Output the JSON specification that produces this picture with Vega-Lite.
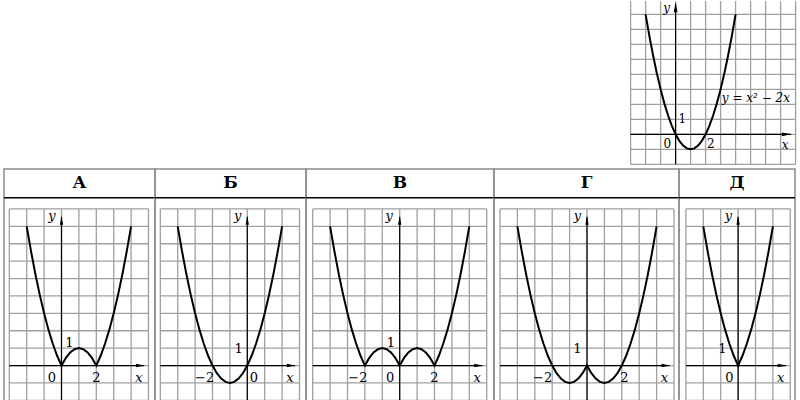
{
"$schema": "https://vega.github.io/schema/vega-lite/v6.json",
"background": "white",
"padding": {"left": 2, "top": 0, "right": 0, "bottom": 0},
"spacing": 0,
"config": {"view": {"stroke": null}, "axis": {"disable": true}, "concat": {"spacing": 0}},
"vconcat": [
{"hconcat": [
  {"width": 626, "height": 167, "data": {"values": []}, "mark": "point"},
  {"width": 166, "height": 167,
   "data": {"values": [
    {"k":"g","x":-3,"x2":-3,"y":-2,"y2":8.887},{"k":"g","x":-2,"x2":-2,"y":-2,"y2":8.887},{"k":"g","x":-1,"x2":-1,"y":-2,"y2":8.887},{"k":"g","x":0,"x2":0,"y":-2,"y2":8.887},{"k":"g","x":1,"x2":1,"y":-2,"y2":8.887},{"k":"g","x":2,"x2":2,"y":-2,"y2":8.887},{"k":"g","x":3,"x2":3,"y":-2,"y2":8.887},{"k":"g","x":4,"x2":4,"y":-2,"y2":8.887},{"k":"g","x":5,"x2":5,"y":-2,"y2":8.887},{"k":"g","x":6,"x2":6,"y":-2,"y2":8.887},{"k":"g","x":7,"x2":7,"y":-2,"y2":8.887},{"k":"g","x":8,"x2":8,"y":-2,"y2":8.887},
    {"k":"g","x":-3,"x2":8,"y":-2,"y2":-2},{"k":"g","x":-3,"x2":8,"y":-1,"y2":-1},{"k":"g","x":-3,"x2":8,"y":0,"y2":0},{"k":"g","x":-3,"x2":8,"y":1,"y2":1},{"k":"g","x":-3,"x2":8,"y":2,"y2":2},{"k":"g","x":-3,"x2":8,"y":3,"y2":3},{"k":"g","x":-3,"x2":8,"y":4,"y2":4},{"k":"g","x":-3,"x2":8,"y":5,"y2":5},{"k":"g","x":-3,"x2":8,"y":6,"y2":6},{"k":"g","x":-3,"x2":8,"y":7,"y2":7},{"k":"g","x":-3,"x2":8,"y":8,"y2":8},
    {"k":"a","x":-3,"x2":7.7,"y":0,"y2":0},{"k":"a","x":0,"x2":0,"y":-2,"y2":8.7},
    {"k":"p","x":7.4,"y":0,"s":"M-1,-0.4L1,0L-1,0.4Z"},{"k":"p","x":0,"y":8.45,"s":"M-0.4,1L0,-1L0.4,1Z"},
    {"k":"n","x":-0.55,"y":-0.65,"t":"0"},{"k":"n","x":0.45,"y":1.0,"t":"1"},{"k":"n","x":2.35,"y":-0.65,"t":"2"},
    {"k":"v","x":-0.6,"y":8.45,"t":"y"},{"k":"v","x":7.3,"y":-0.7,"t":"x"},{"k":"v","x":5.35,"y":2.45,"t":"y = x² − 2x"},
    {"k":"c","x":-2,"y":8},{"k":"c","x":-1.75,"y":6.5625},{"k":"c","x":-1.5,"y":5.25},{"k":"c","x":-1.25,"y":4.0625},{"k":"c","x":-1,"y":3},{"k":"c","x":-0.75,"y":2.0625},{"k":"c","x":-0.5,"y":1.25},{"k":"c","x":-0.25,"y":0.5625},{"k":"c","x":0,"y":0},{"k":"c","x":0.25,"y":-0.4375},{"k":"c","x":0.5,"y":-0.75},{"k":"c","x":0.75,"y":-0.9375},{"k":"c","x":1,"y":-1},{"k":"c","x":1.25,"y":-0.9375},{"k":"c","x":1.5,"y":-0.75},{"k":"c","x":1.75,"y":-0.4375},{"k":"c","x":2,"y":0},{"k":"c","x":2.25,"y":0.5625},{"k":"c","x":2.5,"y":1.25},{"k":"c","x":2.75,"y":2.0625},{"k":"c","x":3,"y":3},{"k":"c","x":3.25,"y":4.0625},{"k":"c","x":3.5,"y":5.25},{"k":"c","x":3.75,"y":6.5625},{"k":"c","x":4,"y":8}
   ]},
   "encoding": {
    "x": {"field":"x","type":"quantitative","scale":{"domain":[-3.04,8.027],"nice":false,"zero":false}},
    "y": {"field":"y","type":"quantitative","scale":{"domain":[-2.247,8.887],"nice":false,"zero":false}}
   },
   "layer": [
    {"transform":[{"filter":"datum.k=='g'"}],"mark":{"type":"rule","color":"#9f9f9f","strokeWidth":1.3},"encoding":{"x2":{"field":"x2"},"y2":{"field":"y2"}}},
    {"transform":[{"filter":"datum.k=='a'"}],"mark":{"type":"rule","color":"#000","strokeWidth":1.2},"encoding":{"x2":{"field":"x2"},"y2":{"field":"y2"}}},
    {"transform":[{"filter":"datum.k=='c'"}],"mark":{"type":"line","color":"#000","strokeWidth":2},"encoding":{}},
    {"transform":[{"filter":"datum.k=='p'"}],"mark":{"type":"point","filled":true,"color":"#000","opacity":1,"size":90,"strokeWidth":0},"encoding":{"shape":{"field":"s","type":"nominal","scale":null}}},
    {"transform":[{"filter":"datum.k=='n'"}],"mark":{"type":"text","font":"DejaVu Serif","fontSize":12,"color":"#000"},"encoding":{"text":{"field":"t"}}},
    {"transform":[{"filter":"datum.k=='v'"}],"mark":{"type":"text","font":"DejaVu Serif","fontStyle":"italic","fontSize":12,"color":"#000"},"encoding":{"text":{"field":"t"}}}
   ]
  }
 ], "spacing": 0, "bounds": "flush"},
{"hconcat": [
  {"width":151,"height":233,"view":{"stroke":"#8c8c8c","strokeWidth":1.5},
   "data":{"values":[
    {"k":"g","x":-3,"x2":-3,"y":-2,"y2":9},{"k":"g","x":-2,"x2":-2,"y":-2,"y2":9},{"k":"g","x":-1,"x2":-1,"y":-2,"y2":9},{"k":"g","x":0,"x2":0,"y":-2,"y2":9},{"k":"g","x":1,"x2":1,"y":-2,"y2":9},{"k":"g","x":2,"x2":2,"y":-2,"y2":9},{"k":"g","x":3,"x2":3,"y":-2,"y2":9},{"k":"g","x":4,"x2":4,"y":-2,"y2":9},{"k":"g","x":5,"x2":5,"y":-2,"y2":9},
    {"k":"g","x":-3,"x2":5,"y":-2,"y2":-2},{"k":"g","x":-3,"x2":5,"y":-1,"y2":-1},{"k":"g","x":-3,"x2":5,"y":0,"y2":0},{"k":"g","x":-3,"x2":5,"y":1,"y2":1},{"k":"g","x":-3,"x2":5,"y":2,"y2":2},{"k":"g","x":-3,"x2":5,"y":3,"y2":3},{"k":"g","x":-3,"x2":5,"y":4,"y2":4},{"k":"g","x":-3,"x2":5,"y":5,"y2":5},{"k":"g","x":-3,"x2":5,"y":6,"y2":6},{"k":"g","x":-3,"x2":5,"y":7,"y2":7},{"k":"g","x":-3,"x2":5,"y":8,"y2":8},{"k":"g","x":-3,"x2":5,"y":9,"y2":9},
    {"k":"a","x":-3,"x2":4.75,"y":0,"y2":0},{"k":"a","x":0,"x2":0,"y":-2.095,"y2":8.55},{"k":"h","x":-3.305,"x2":5.374,"y":9.644,"y2":9.644},
    {"k":"hd","x":1.035,"y":10.48,"t":"А"},
    {"k":"p","x":4.52,"y":0,"s":"M-1,-0.4L1,0L-1,0.4Z"},{"k":"p","x":0,"y":8.33,"s":"M-0.4,1L0,-1L0.4,1Z"},
    {"k":"n","x":-0.55,"y":-0.7,"t":"0"},{"k":"n","x":0.45,"y":1.3,"t":"1"},{"k":"n","x":2.0,"y":-0.7,"t":"2"},
    {"k":"v","x":4.45,"y":-0.7,"t":"x"},{"k":"v","x":-0.55,"y":8.6,"t":"y"},
    {"k":"c","x":-2,"y":8},{"k":"c","x":-1.75,"y":6.5625},{"k":"c","x":-1.5,"y":5.25},{"k":"c","x":-1.25,"y":4.0625},{"k":"c","x":-1,"y":3},{"k":"c","x":-0.75,"y":2.0625},{"k":"c","x":-0.5,"y":1.25},{"k":"c","x":-0.25,"y":0.5625},{"k":"c","x":0,"y":0},{"k":"c","x":0.25,"y":0.4375},{"k":"c","x":0.5,"y":0.75},{"k":"c","x":0.75,"y":0.9375},{"k":"c","x":1,"y":1},{"k":"c","x":1.25,"y":0.9375},{"k":"c","x":1.5,"y":0.75},{"k":"c","x":1.75,"y":0.4375},{"k":"c","x":2,"y":0},{"k":"c","x":2.25,"y":0.5625},{"k":"c","x":2.5,"y":1.25},{"k":"c","x":2.75,"y":2.0625},{"k":"c","x":3,"y":3},{"k":"c","x":3.25,"y":4.0625},{"k":"c","x":3.5,"y":5.25},{"k":"c","x":3.75,"y":6.5625},{"k":"c","x":4,"y":8}
   ]},
   "encoding": {
    "x": {"field":"x","type":"quantitative","scale":{"domain":[-3.305,5.374],"nice":false,"zero":false}},
    "y": {"field":"y","type":"quantitative","scale":{"domain":[-2.095,11.296],"nice":false,"zero":false}}
   },
   "layer": [
    {"transform":[{"filter":"datum.k=='g'"}],"mark":{"type":"rule","color":"#9f9f9f","strokeWidth":1.3},"encoding":{"x2":{"field":"x2"},"y2":{"field":"y2"}}},
    {"transform":[{"filter":"datum.k=='a'"}],"mark":{"type":"rule","color":"#000","strokeWidth":1.2},"encoding":{"x2":{"field":"x2"},"y2":{"field":"y2"}}},
    {"transform":[{"filter":"datum.k=='h'"}],"mark":{"type":"rule","color":"#000","strokeWidth":1.6},"encoding":{"x2":{"field":"x2"},"y2":{"field":"y2"}}},
    {"transform":[{"filter":"datum.k=='c'"}],"mark":{"type":"line","color":"#000","strokeWidth":2},"encoding":{}},
    {"transform":[{"filter":"datum.k=='p'"}],"mark":{"type":"point","filled":true,"color":"#000","opacity":1,"size":70,"strokeWidth":0},"encoding":{"shape":{"field":"s","type":"nominal","scale":null}}},
    {"transform":[{"filter":"datum.k=='n'"}],"mark":{"type":"text","font":"DejaVu Serif","fontSize":13,"color":"#000"},"encoding":{"text":{"field":"t"}}},
    {"transform":[{"filter":"datum.k=='v'"}],"mark":{"type":"text","font":"DejaVu Serif","fontStyle":"italic","fontSize":13,"color":"#000"},"encoding":{"text":{"field":"t"}}},
    {"transform":[{"filter":"datum.k=='hd'"}],"mark":{"type":"text","font":"DejaVu Serif","fontWeight":"bold","fontSize":17,"color":"#000"},"encoding":{"text":{"field":"t"}}}
   ]
  },
  {"width":151,"height":233,"view":{"stroke":"#8c8c8c","strokeWidth":1.5},
   "data":{"values":[
    {"k":"g","x":-5,"x2":-5,"y":-2,"y2":9},{"k":"g","x":-4,"x2":-4,"y":-2,"y2":9},{"k":"g","x":-3,"x2":-3,"y":-2,"y2":9},{"k":"g","x":-2,"x2":-2,"y":-2,"y2":9},{"k":"g","x":-1,"x2":-1,"y":-2,"y2":9},{"k":"g","x":0,"x2":0,"y":-2,"y2":9},{"k":"g","x":1,"x2":1,"y":-2,"y2":9},{"k":"g","x":2,"x2":2,"y":-2,"y2":9},{"k":"g","x":3,"x2":3,"y":-2,"y2":9},
    {"k":"g","x":-5,"x2":3,"y":-2,"y2":-2},{"k":"g","x":-5,"x2":3,"y":-1,"y2":-1},{"k":"g","x":-5,"x2":3,"y":0,"y2":0},{"k":"g","x":-5,"x2":3,"y":1,"y2":1},{"k":"g","x":-5,"x2":3,"y":2,"y2":2},{"k":"g","x":-5,"x2":3,"y":3,"y2":3},{"k":"g","x":-5,"x2":3,"y":4,"y2":4},{"k":"g","x":-5,"x2":3,"y":5,"y2":5},{"k":"g","x":-5,"x2":3,"y":6,"y2":6},{"k":"g","x":-5,"x2":3,"y":7,"y2":7},{"k":"g","x":-5,"x2":3,"y":8,"y2":8},{"k":"g","x":-5,"x2":3,"y":9,"y2":9},
    {"k":"a","x":-5,"x2":2.75,"y":0,"y2":0},{"k":"a","x":0,"x2":0,"y":-2.095,"y2":8.55},{"k":"h","x":-5.305,"x2":3.374,"y":9.644,"y2":9.644},
    {"k":"hd","x":-0.966,"y":10.48,"t":"Б"},
    {"k":"p","x":2.52,"y":0,"s":"M-1,-0.4L1,0L-1,0.4Z"},{"k":"p","x":0,"y":8.33,"s":"M-0.4,1L0,-1L0.4,1Z"},
    {"k":"n","x":-2.45,"y":-0.7,"t":"−2"},{"k":"n","x":0.38,"y":-0.7,"t":"0"},{"k":"n","x":-0.5,"y":0.95,"t":"1"},
    {"k":"v","x":2.45,"y":-0.7,"t":"x"},{"k":"v","x":-0.55,"y":8.6,"t":"y"},
    {"k":"c","x":-4,"y":8},{"k":"c","x":-3.75,"y":6.5625},{"k":"c","x":-3.5,"y":5.25},{"k":"c","x":-3.25,"y":4.0625},{"k":"c","x":-3,"y":3},{"k":"c","x":-2.75,"y":2.0625},{"k":"c","x":-2.5,"y":1.25},{"k":"c","x":-2.25,"y":0.5625},{"k":"c","x":-2,"y":0},{"k":"c","x":-1.75,"y":-0.4375},{"k":"c","x":-1.5,"y":-0.75},{"k":"c","x":-1.25,"y":-0.9375},{"k":"c","x":-1,"y":-1},{"k":"c","x":-0.75,"y":-0.9375},{"k":"c","x":-0.5,"y":-0.75},{"k":"c","x":-0.25,"y":-0.4375},{"k":"c","x":0,"y":0},{"k":"c","x":0.25,"y":0.5625},{"k":"c","x":0.5,"y":1.25},{"k":"c","x":0.75,"y":2.0625},{"k":"c","x":1,"y":3},{"k":"c","x":1.25,"y":4.0625},{"k":"c","x":1.5,"y":5.25},{"k":"c","x":1.75,"y":6.5625},{"k":"c","x":2,"y":8}
   ]},
   "encoding": {
    "x": {"field":"x","type":"quantitative","scale":{"domain":[-5.305,3.374],"nice":false,"zero":false}},
    "y": {"field":"y","type":"quantitative","scale":{"domain":[-2.095,11.296],"nice":false,"zero":false}}
   },
   "layer": [
    {"transform":[{"filter":"datum.k=='g'"}],"mark":{"type":"rule","color":"#9f9f9f","strokeWidth":1.3},"encoding":{"x2":{"field":"x2"},"y2":{"field":"y2"}}},
    {"transform":[{"filter":"datum.k=='a'"}],"mark":{"type":"rule","color":"#000","strokeWidth":1.2},"encoding":{"x2":{"field":"x2"},"y2":{"field":"y2"}}},
    {"transform":[{"filter":"datum.k=='h'"}],"mark":{"type":"rule","color":"#000","strokeWidth":1.6},"encoding":{"x2":{"field":"x2"},"y2":{"field":"y2"}}},
    {"transform":[{"filter":"datum.k=='c'"}],"mark":{"type":"line","color":"#000","strokeWidth":2},"encoding":{}},
    {"transform":[{"filter":"datum.k=='p'"}],"mark":{"type":"point","filled":true,"color":"#000","opacity":1,"size":70,"strokeWidth":0},"encoding":{"shape":{"field":"s","type":"nominal","scale":null}}},
    {"transform":[{"filter":"datum.k=='n'"}],"mark":{"type":"text","font":"DejaVu Serif","fontSize":13,"color":"#000"},"encoding":{"text":{"field":"t"}}},
    {"transform":[{"filter":"datum.k=='v'"}],"mark":{"type":"text","font":"DejaVu Serif","fontStyle":"italic","fontSize":13,"color":"#000"},"encoding":{"text":{"field":"t"}}},
    {"transform":[{"filter":"datum.k=='hd'"}],"mark":{"type":"text","font":"DejaVu Serif","fontWeight":"bold","fontSize":17,"color":"#000"},"encoding":{"text":{"field":"t"}}}
   ]
  },
  {"width":188,"height":233,"view":{"stroke":"#8c8c8c","strokeWidth":1.5},
   "data":{"values":[
    {"k":"g","x":-5,"x2":-5,"y":-2,"y2":9},{"k":"g","x":-4,"x2":-4,"y":-2,"y2":9},{"k":"g","x":-3,"x2":-3,"y":-2,"y2":9},{"k":"g","x":-2,"x2":-2,"y":-2,"y2":9},{"k":"g","x":-1,"x2":-1,"y":-2,"y2":9},{"k":"g","x":0,"x2":0,"y":-2,"y2":9},{"k":"g","x":1,"x2":1,"y":-2,"y2":9},{"k":"g","x":2,"x2":2,"y":-2,"y2":9},{"k":"g","x":3,"x2":3,"y":-2,"y2":9},{"k":"g","x":4,"x2":4,"y":-2,"y2":9},{"k":"g","x":5,"x2":5,"y":-2,"y2":9},
    {"k":"g","x":-5,"x2":5,"y":-2,"y2":-2},{"k":"g","x":-5,"x2":5,"y":-1,"y2":-1},{"k":"g","x":-5,"x2":5,"y":0,"y2":0},{"k":"g","x":-5,"x2":5,"y":1,"y2":1},{"k":"g","x":-5,"x2":5,"y":2,"y2":2},{"k":"g","x":-5,"x2":5,"y":3,"y2":3},{"k":"g","x":-5,"x2":5,"y":4,"y2":4},{"k":"g","x":-5,"x2":5,"y":5,"y2":5},{"k":"g","x":-5,"x2":5,"y":6,"y2":6},{"k":"g","x":-5,"x2":5,"y":7,"y2":7},{"k":"g","x":-5,"x2":5,"y":8,"y2":8},{"k":"g","x":-5,"x2":5,"y":9,"y2":9},
    {"k":"a","x":-5,"x2":4.75,"y":0,"y2":0},{"k":"a","x":0,"x2":0,"y":-2.095,"y2":8.55},{"k":"h","x":-5.385,"x2":5.42,"y":9.644,"y2":9.644},
    {"k":"hd","x":0.018,"y":10.48,"t":"В"},
    {"k":"p","x":4.52,"y":0,"s":"M-1,-0.4L1,0L-1,0.4Z"},{"k":"p","x":0,"y":8.33,"s":"M-0.4,1L0,-1L0.4,1Z"},
    {"k":"n","x":-2.4,"y":-0.7,"t":"−2"},{"k":"n","x":-0.55,"y":-0.7,"t":"0"},{"k":"n","x":2.0,"y":-0.7,"t":"2"},{"k":"n","x":-0.5,"y":1.3,"t":"1"},
    {"k":"v","x":4.45,"y":-0.7,"t":"x"},{"k":"v","x":-0.6,"y":8.6,"t":"y"},
    {"k":"c","x":-4,"y":8},{"k":"c","x":-3.75,"y":6.5625},{"k":"c","x":-3.5,"y":5.25},{"k":"c","x":-3.25,"y":4.0625},{"k":"c","x":-3,"y":3},{"k":"c","x":-2.75,"y":2.0625},{"k":"c","x":-2.5,"y":1.25},{"k":"c","x":-2.25,"y":0.5625},{"k":"c","x":-2,"y":0},{"k":"c","x":-1.75,"y":0.4375},{"k":"c","x":-1.5,"y":0.75},{"k":"c","x":-1.25,"y":0.9375},{"k":"c","x":-1,"y":1},{"k":"c","x":-0.75,"y":0.9375},{"k":"c","x":-0.5,"y":0.75},{"k":"c","x":-0.25,"y":0.4375},{"k":"c","x":0,"y":0},{"k":"c","x":0.25,"y":0.4375},{"k":"c","x":0.5,"y":0.75},{"k":"c","x":0.75,"y":0.9375},{"k":"c","x":1,"y":1},{"k":"c","x":1.25,"y":0.9375},{"k":"c","x":1.5,"y":0.75},{"k":"c","x":1.75,"y":0.4375},{"k":"c","x":2,"y":0},{"k":"c","x":2.25,"y":0.5625},{"k":"c","x":2.5,"y":1.25},{"k":"c","x":2.75,"y":2.0625},{"k":"c","x":3,"y":3},{"k":"c","x":3.25,"y":4.0625},{"k":"c","x":3.5,"y":5.25},{"k":"c","x":3.75,"y":6.5625},{"k":"c","x":4,"y":8}
   ]},
   "encoding": {
    "x": {"field":"x","type":"quantitative","scale":{"domain":[-5.385,5.42],"nice":false,"zero":false}},
    "y": {"field":"y","type":"quantitative","scale":{"domain":[-2.095,11.296],"nice":false,"zero":false}}
   },
   "layer": [
    {"transform":[{"filter":"datum.k=='g'"}],"mark":{"type":"rule","color":"#9f9f9f","strokeWidth":1.3},"encoding":{"x2":{"field":"x2"},"y2":{"field":"y2"}}},
    {"transform":[{"filter":"datum.k=='a'"}],"mark":{"type":"rule","color":"#000","strokeWidth":1.2},"encoding":{"x2":{"field":"x2"},"y2":{"field":"y2"}}},
    {"transform":[{"filter":"datum.k=='h'"}],"mark":{"type":"rule","color":"#000","strokeWidth":1.6},"encoding":{"x2":{"field":"x2"},"y2":{"field":"y2"}}},
    {"transform":[{"filter":"datum.k=='c'"}],"mark":{"type":"line","color":"#000","strokeWidth":2},"encoding":{}},
    {"transform":[{"filter":"datum.k=='p'"}],"mark":{"type":"point","filled":true,"color":"#000","opacity":1,"size":70,"strokeWidth":0},"encoding":{"shape":{"field":"s","type":"nominal","scale":null}}},
    {"transform":[{"filter":"datum.k=='n'"}],"mark":{"type":"text","font":"DejaVu Serif","fontSize":13,"color":"#000"},"encoding":{"text":{"field":"t"}}},
    {"transform":[{"filter":"datum.k=='v'"}],"mark":{"type":"text","font":"DejaVu Serif","fontStyle":"italic","fontSize":13,"color":"#000"},"encoding":{"text":{"field":"t"}}},
    {"transform":[{"filter":"datum.k=='hd'"}],"mark":{"type":"text","font":"DejaVu Serif","fontWeight":"bold","fontSize":17,"color":"#000"},"encoding":{"text":{"field":"t"}}}
   ]
  },
  {"width":185,"height":233,"view":{"stroke":"#8c8c8c","strokeWidth":1.5},
   "data":{"values":[
    {"k":"g","x":-5,"x2":-5,"y":-2,"y2":9},{"k":"g","x":-4,"x2":-4,"y":-2,"y2":9},{"k":"g","x":-3,"x2":-3,"y":-2,"y2":9},{"k":"g","x":-2,"x2":-2,"y":-2,"y2":9},{"k":"g","x":-1,"x2":-1,"y":-2,"y2":9},{"k":"g","x":0,"x2":0,"y":-2,"y2":9},{"k":"g","x":1,"x2":1,"y":-2,"y2":9},{"k":"g","x":2,"x2":2,"y":-2,"y2":9},{"k":"g","x":3,"x2":3,"y":-2,"y2":9},{"k":"g","x":4,"x2":4,"y":-2,"y2":9},{"k":"g","x":5,"x2":5,"y":-2,"y2":9},
    {"k":"g","x":-5,"x2":5,"y":-2,"y2":-2},{"k":"g","x":-5,"x2":5,"y":-1,"y2":-1},{"k":"g","x":-5,"x2":5,"y":0,"y2":0},{"k":"g","x":-5,"x2":5,"y":1,"y2":1},{"k":"g","x":-5,"x2":5,"y":2,"y2":2},{"k":"g","x":-5,"x2":5,"y":3,"y2":3},{"k":"g","x":-5,"x2":5,"y":4,"y2":4},{"k":"g","x":-5,"x2":5,"y":5,"y2":5},{"k":"g","x":-5,"x2":5,"y":6,"y2":6},{"k":"g","x":-5,"x2":5,"y":7,"y2":7},{"k":"g","x":-5,"x2":5,"y":8,"y2":8},{"k":"g","x":-5,"x2":5,"y":9,"y2":9},
    {"k":"a","x":-5,"x2":4.75,"y":0,"y2":0},{"k":"a","x":0,"x2":0,"y":-2.095,"y2":8.55},{"k":"h","x":-5.345,"x2":5.287,"y":9.644,"y2":9.644},
    {"k":"hd","x":-0.029,"y":10.48,"t":"Г"},
    {"k":"p","x":4.52,"y":0,"s":"M-1,-0.4L1,0L-1,0.4Z"},{"k":"p","x":0,"y":8.33,"s":"M-0.4,1L0,-1L0.4,1Z"},
    {"k":"n","x":-2.55,"y":-0.7,"t":"−2"},{"k":"n","x":2.15,"y":-0.7,"t":"2"},{"k":"n","x":-0.55,"y":0.95,"t":"1"},
    {"k":"v","x":4.45,"y":-0.7,"t":"x"},{"k":"v","x":-0.55,"y":8.6,"t":"y"},
    {"k":"c","x":-4,"y":8},{"k":"c","x":-3.75,"y":6.5625},{"k":"c","x":-3.5,"y":5.25},{"k":"c","x":-3.25,"y":4.0625},{"k":"c","x":-3,"y":3},{"k":"c","x":-2.75,"y":2.0625},{"k":"c","x":-2.5,"y":1.25},{"k":"c","x":-2.25,"y":0.5625},{"k":"c","x":-2,"y":0},{"k":"c","x":-1.75,"y":-0.4375},{"k":"c","x":-1.5,"y":-0.75},{"k":"c","x":-1.25,"y":-0.9375},{"k":"c","x":-1,"y":-1},{"k":"c","x":-0.75,"y":-0.9375},{"k":"c","x":-0.5,"y":-0.75},{"k":"c","x":-0.25,"y":-0.4375},{"k":"c","x":0,"y":0},{"k":"c","x":0.25,"y":-0.4375},{"k":"c","x":0.5,"y":-0.75},{"k":"c","x":0.75,"y":-0.9375},{"k":"c","x":1,"y":-1},{"k":"c","x":1.25,"y":-0.9375},{"k":"c","x":1.5,"y":-0.75},{"k":"c","x":1.75,"y":-0.4375},{"k":"c","x":2,"y":0},{"k":"c","x":2.25,"y":0.5625},{"k":"c","x":2.5,"y":1.25},{"k":"c","x":2.75,"y":2.0625},{"k":"c","x":3,"y":3},{"k":"c","x":3.25,"y":4.0625},{"k":"c","x":3.5,"y":5.25},{"k":"c","x":3.75,"y":6.5625},{"k":"c","x":4,"y":8}
   ]},
   "encoding": {
    "x": {"field":"x","type":"quantitative","scale":{"domain":[-5.345,5.287],"nice":false,"zero":false}},
    "y": {"field":"y","type":"quantitative","scale":{"domain":[-2.095,11.296],"nice":false,"zero":false}}
   },
   "layer": [
    {"transform":[{"filter":"datum.k=='g'"}],"mark":{"type":"rule","color":"#9f9f9f","strokeWidth":1.3},"encoding":{"x2":{"field":"x2"},"y2":{"field":"y2"}}},
    {"transform":[{"filter":"datum.k=='a'"}],"mark":{"type":"rule","color":"#000","strokeWidth":1.2},"encoding":{"x2":{"field":"x2"},"y2":{"field":"y2"}}},
    {"transform":[{"filter":"datum.k=='h'"}],"mark":{"type":"rule","color":"#000","strokeWidth":1.6},"encoding":{"x2":{"field":"x2"},"y2":{"field":"y2"}}},
    {"transform":[{"filter":"datum.k=='c'"}],"mark":{"type":"line","color":"#000","strokeWidth":2},"encoding":{}},
    {"transform":[{"filter":"datum.k=='p'"}],"mark":{"type":"point","filled":true,"color":"#000","opacity":1,"size":70,"strokeWidth":0},"encoding":{"shape":{"field":"s","type":"nominal","scale":null}}},
    {"transform":[{"filter":"datum.k=='n'"}],"mark":{"type":"text","font":"DejaVu Serif","fontSize":13,"color":"#000"},"encoding":{"text":{"field":"t"}}},
    {"transform":[{"filter":"datum.k=='v'"}],"mark":{"type":"text","font":"DejaVu Serif","fontStyle":"italic","fontSize":13,"color":"#000"},"encoding":{"text":{"field":"t"}}},
    {"transform":[{"filter":"datum.k=='hd'"}],"mark":{"type":"text","font":"DejaVu Serif","fontWeight":"bold","fontSize":17,"color":"#000"},"encoding":{"text":{"field":"t"}}}
   ]
  },
  {"width":116,"height":233,"view":{"stroke":"#8c8c8c","strokeWidth":1.5},
   "data":{"values":[
    {"k":"g","x":-3,"x2":-3,"y":-2,"y2":9},{"k":"g","x":-2,"x2":-2,"y":-2,"y2":9},{"k":"g","x":-1,"x2":-1,"y":-2,"y2":9},{"k":"g","x":0,"x2":0,"y":-2,"y2":9},{"k":"g","x":1,"x2":1,"y":-2,"y2":9},{"k":"g","x":2,"x2":2,"y":-2,"y2":9},{"k":"g","x":3,"x2":3,"y":-2,"y2":9},
    {"k":"g","x":-3,"x2":3,"y":-2,"y2":-2},{"k":"g","x":-3,"x2":3,"y":-1,"y2":-1},{"k":"g","x":-3,"x2":3,"y":0,"y2":0},{"k":"g","x":-3,"x2":3,"y":1,"y2":1},{"k":"g","x":-3,"x2":3,"y":2,"y2":2},{"k":"g","x":-3,"x2":3,"y":3,"y2":3},{"k":"g","x":-3,"x2":3,"y":4,"y2":4},{"k":"g","x":-3,"x2":3,"y":5,"y2":5},{"k":"g","x":-3,"x2":3,"y":6,"y2":6},{"k":"g","x":-3,"x2":3,"y":7,"y2":7},{"k":"g","x":-3,"x2":3,"y":8,"y2":8},{"k":"g","x":-3,"x2":3,"y":9,"y2":9},
    {"k":"a","x":-3,"x2":2.75,"y":0,"y2":0},{"k":"a","x":0,"x2":0,"y":-2.095,"y2":8.55},{"k":"h","x":-3.397,"x2":3.27,"y":9.644,"y2":9.644},
    {"k":"hd","x":-0.064,"y":10.48,"t":"Д"},
    {"k":"p","x":2.52,"y":0,"s":"M-1,-0.4L1,0L-1,0.4Z"},{"k":"p","x":0,"y":8.33,"s":"M-0.4,1L0,-1L0.4,1Z"},
    {"k":"n","x":-0.5,"y":-0.7,"t":"0"},{"k":"n","x":-0.9,"y":0.95,"t":"1"},
    {"k":"v","x":2.45,"y":-0.7,"t":"x"},{"k":"v","x":-0.55,"y":8.6,"t":"y"},
    {"k":"c","x":-2,"y":8},{"k":"c","x":-1.75,"y":6.5625},{"k":"c","x":-1.5,"y":5.25},{"k":"c","x":-1.25,"y":4.0625},{"k":"c","x":-1,"y":3},{"k":"c","x":-0.75,"y":2.0625},{"k":"c","x":-0.5,"y":1.25},{"k":"c","x":-0.25,"y":0.5625},{"k":"c","x":0,"y":0},{"k":"c","x":0.25,"y":0.5625},{"k":"c","x":0.5,"y":1.25},{"k":"c","x":0.75,"y":2.0625},{"k":"c","x":1,"y":3},{"k":"c","x":1.25,"y":4.0625},{"k":"c","x":1.5,"y":5.25},{"k":"c","x":1.75,"y":6.5625},{"k":"c","x":2,"y":8}
   ]},
   "encoding": {
    "x": {"field":"x","type":"quantitative","scale":{"domain":[-3.397,3.27],"nice":false,"zero":false}},
    "y": {"field":"y","type":"quantitative","scale":{"domain":[-2.095,11.296],"nice":false,"zero":false}}
   },
   "layer": [
    {"transform":[{"filter":"datum.k=='g'"}],"mark":{"type":"rule","color":"#9f9f9f","strokeWidth":1.3},"encoding":{"x2":{"field":"x2"},"y2":{"field":"y2"}}},
    {"transform":[{"filter":"datum.k=='a'"}],"mark":{"type":"rule","color":"#000","strokeWidth":1.2},"encoding":{"x2":{"field":"x2"},"y2":{"field":"y2"}}},
    {"transform":[{"filter":"datum.k=='h'"}],"mark":{"type":"rule","color":"#000","strokeWidth":1.6},"encoding":{"x2":{"field":"x2"},"y2":{"field":"y2"}}},
    {"transform":[{"filter":"datum.k=='c'"}],"mark":{"type":"line","color":"#000","strokeWidth":2},"encoding":{}},
    {"transform":[{"filter":"datum.k=='p'"}],"mark":{"type":"point","filled":true,"color":"#000","opacity":1,"size":70,"strokeWidth":0},"encoding":{"shape":{"field":"s","type":"nominal","scale":null}}},
    {"transform":[{"filter":"datum.k=='n'"}],"mark":{"type":"text","font":"DejaVu Serif","fontSize":13,"color":"#000"},"encoding":{"text":{"field":"t"}}},
    {"transform":[{"filter":"datum.k=='v'"}],"mark":{"type":"text","font":"DejaVu Serif","fontStyle":"italic","fontSize":13,"color":"#000"},"encoding":{"text":{"field":"t"}}},
    {"transform":[{"filter":"datum.k=='hd'"}],"mark":{"type":"text","font":"DejaVu Serif","fontWeight":"bold","fontSize":17,"color":"#000"},"encoding":{"text":{"field":"t"}}}
   ]
  }
 ], "spacing": 0, "bounds": "flush"}
]
}
